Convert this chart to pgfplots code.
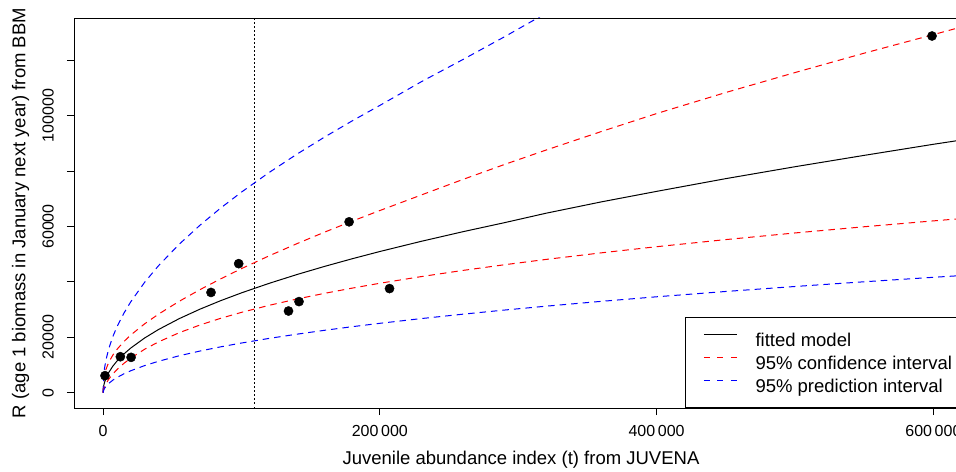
\documentclass[border=0pt]{standalone}
\usepackage{pgfplots}
\pgfplotsset{compat=1.18}
\usepackage{fontspec}
\setmainfont{Liberation Sans}
\definecolor{rred}{RGB}{255,0,0}
\definecolor{rblue}{RGB}{0,0,255}
\begin{document}
\begin{tikzpicture}
\useasboundingbox (0,0) rectangle (956bp,472bp);
\clip (0,0) rectangle (956bp,472bp);
\begin{axis}[
  at={(74bp,64bp)}, anchor=south west,
  scale only axis, width=894bp, height=390bp,
  xmin=-21000, xmax=625000, ymin=-5520, ymax=135300,
  axis line style={line width=0.9bp},
  tick style={black, line width=0.9bp},
  tick align=outside, major tick length=7bp, tick pos=left,
  scaled ticks=false,
  xtick={0,200000,400000,600000},
  xticklabels={0,200\,000,400\,000,600\,000},
  ytick={0,20000,40000,60000,80000,100000,120000},
  yticklabels={0,20000,,60000,,100000,},
  tick label style={font=\fontsize{16bp}{19bp}\selectfont, inner sep=0pt},
  xticklabel style={anchor=north},
  yticklabel style={rotate=90, anchor=south},
  xticklabel shift=10bp,
  yticklabel shift=13bp,
  xlabel={Juvenile abundance index (t) from JUVENA},
  ylabel={R (age 1 biomass in January next year) from BBM},
  label style={font=\fontsize{18.5bp}{22bp}\selectfont},
  x label style={at={(axis description cs:0.5,-0.1333)}, anchor=center},
  y label style={at={(axis description cs:-0.0598,0.5)}, anchor=center},
  legend style={at={(axis description cs:1,0)}, anchor=south east,
    draw=black, line width=0.9bp, fill=white,
    inner xsep=0pt, inner ysep=11bp, row sep=1bp, column sep=0pt,
    font=\fontsize{18.5bp}{22bp}\selectfont,
    nodes={inner sep=0pt, text height=18bp, text depth=4bp, draw=none}},
  legend cell align=left,
  legend image code/.code={\path[draw=none, fill=none] (0bp,0bp) -- (69.7bp,0bp);
    \draw[#1] (18bp,5bp) -- (51bp,5bp);},
]
% observed points
\addplot[only marks, mark=*, mark size=4.6bp, black, forget plot] coordinates {
(1400,6150) (12500,13000) (20240,12770) (78000,36200) (98000,46600)
(134000,29500) (141600,32900) (177800,61700) (207000,37600) (599000,128800)};
% vertical reference line
\addplot[black, line width=1bp, dash pattern=on 1.5bp off 2.5bp, forget plot]
 coordinates {(109400,-5520) (109400,135300)};
% fitted model
\addplot[black, line width=1bp] coordinates {
(0,0) (500,2549) (1000,3605) (2000,5098) (4000,7210) (7000,9538) (10000,11400)
(15000,13962) (20000,16122) (30000,19745) (40000,22800) (55000,26735)
(70000,30162) (85000,33237) (100000,36050) (120000,39490) (140000,42655)
(160000,45600) (180000,48366) (200000,50984) (230000,54673) (260000,58129)
(290000,61391) (320000,64800) (360000,68900) (400000,72700) (450000,77300)
(500000,81600) (550000,85700) (600000,89700) (625000,91600)};
\addlegendentry{\makebox[212bp][l]{fitted model}}
% confidence interval upper
\addplot[rred, line width=1bp, dash pattern=on 6.5bp off 5bp,
  legend image post style={dash pattern=on 6bp off 7.5bp}] coordinates {
(0,0) (500,4879) (1000,6348) (2000,8289) (4000,10851) (7000,13530) (10000,15618)
(15000,18444) (20000,20825) (30000,24859) (40000,28347) (55000,32999)
(70000,37211) (85000,41118) (100000,44800) (120000,49426) (140000,53800)
(160000,57962) (180000,61943) (200000,65780) (230000,71400) (260000,77000)
(290000,82400) (320000,87600) (360000,94300) (400000,100800) (450000,108400)
(500000,115600) (550000,122600) (600000,129300) (625000,132700)};
\addlegendentry{\makebox[212bp][l]{95\% confidence interval}}
% prediction interval upper
\addplot[rblue, line width=1bp, dash pattern=on 6.5bp off 5bp,
  legend image post style={dash pattern=on 6bp off 7.5bp}] coordinates {
(0,0) (500,6447) (1000,8623) (2000,11598) (4000,15711) (7000,20183) (10000,23746)
(15000,28664) (20000,32816) (30000,39840) (40000,45817) (55000,53601)
(70000,60466) (85000,66684) (100000,72428) (120000,79517) (140000,86112)
(160000,92294) (180000,98149) (200000,103732) (230000,112300) (260000,120300)
(290000,128500) (320000,137000) (340000,142000)};
\addlegendentry{\makebox[212bp][l]{95\% prediction interval}}
% confidence interval lower
\addplot[rred, line width=1bp, dash pattern=on 6.5bp off 5bp, forget plot] coordinates {
(0,0) (500,1332) (1000,2047) (2000,3135) (4000,4792) (7000,6724) (10000,8322)
(15000,10569) (20000,12480) (30000,15682) (40000,18338) (55000,21660)
(70000,24449) (85000,26866) (100000,29010) (120000,31552) (140000,33821)
(160000,35874) (180000,37764) (200000,39518) (230000,41934) (260000,44155)
(290000,46203) (320000,48122) (360000,50500) (400000,52719) (450000,55291)
(500000,57685) (550000,59925) (600000,62043) (625000,63070)};
% prediction interval lower
\addplot[rblue, line width=1bp, dash pattern=on 6.5bp off 5bp, forget plot] coordinates {
(0,0) (500,1008) (1000,1507) (2000,2241) (4000,3309) (7000,4508) (10000,5472)
(15000,6802) (20000,7921) (30000,9786) (40000,11345) (55000,13335)
(70000,15046) (85000,16566) (100000,17942) (120000,19611) (140000,21127)
(160000,22531) (180000,23835) (200000,25059) (230000,26768) (260000,28355)
(290000,29842) (320000,31239) (360000,32989) (400000,34637) (450000,36555)
(500000,38354) (550000,40057) (600000,41671) (625000,42449)};
\end{axis}
\end{tikzpicture}
\end{document}
